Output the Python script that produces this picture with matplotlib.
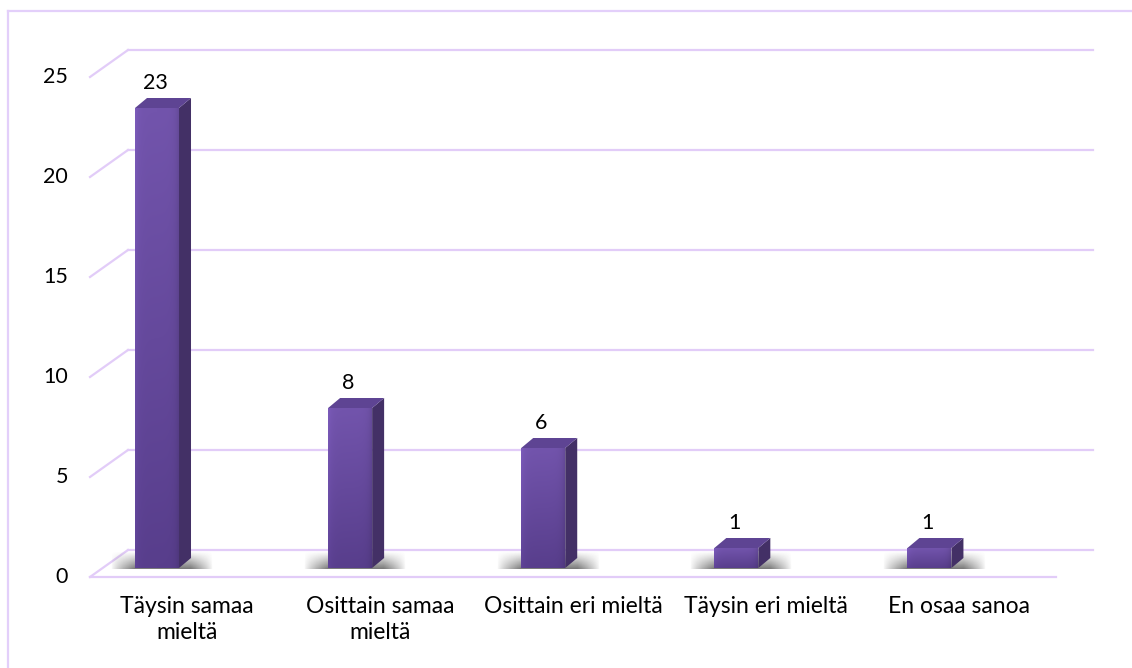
import numpy as np
import matplotlib
matplotlib.use("Agg")
import matplotlib.pyplot as plt
from matplotlib.patches import Polygon
from matplotlib.lines import Line2D
from matplotlib.colors import to_rgb

plt.rcParams["font.family"] = ["Lato", "DejaVu Sans"]

categories = [
    "Täysin samaa\nmieltä",
    "Osittain samaa\nmieltä",
    "Osittain eri mieltä",
    "Täysin eri mieltä",
    "En osaa sanoa",
]
values = [23, 8, 6, 1, 1]
y_ticks = [0, 5, 10, 15, 20, 25]

# figure and plotting box (pixels)
W, H = 1132, 668
L, T, R, B = 90, 40, 1093, 577
XLIM = (-0.347, 4.847)
YLIM = (-0.45, 26.4)

fig = plt.figure(figsize=(W / 100, H / 100), dpi=100)
ax = fig.add_axes([L / W, 1 - B / H, (R - L) / W, (B - T) / H])
ax.set_xlim(*XLIM)
ax.set_ylim(*YLIM)
ax.axis("off")

# pixels per data unit, used to turn depth offsets into data units
px_x = (R - L) / (XLIM[1] - XLIM[0])
px_y = (B - T) / (YLIM[1] - YLIM[0])
dx = lambda p: p / px_x
dy = lambda p: p / px_y

grid_c = "#E2CCF8"
grid_lw = 1.6
FRONT_DY, BACK_DY, BACK_DX = -9, 18, 38
x0 = XLIM[0]

# back wall gridlines with their diagonal returns to the front plane
for v in y_ticks:
    yb = v + dy(BACK_DY)
    yf = v + dy(FRONT_DY)
    ax.add_line(Line2D([x0 + dx(BACK_DX), XLIM[1]], [yb, yb], color=grid_c,
                       lw=grid_lw, clip_on=False, zorder=1))
    ax.add_line(Line2D([x0, x0 + dx(BACK_DX)], [yf, yb], color=grid_c,
                       lw=grid_lw, clip_on=False, zorder=1))
    ax.text(x0 - dx(22), yf, str(v), ha="right", va="center", fontsize=15.5,
            color="#000000")

# front edge of the floor
ax.add_line(Line2D([x0, x0 + dx(966)], [dy(FRONT_DY)] * 2, color=grid_c,
                   lw=grid_lw, clip_on=False, zorder=1))

# outer chart border (top and left edges)
fig.add_artist(Line2D([8 / W, 8 / W], [0, 1 - 11 / H], color="#E3CFFA",
                      lw=1.6, transform=fig.transFigure))
fig.add_artist(Line2D([8 / W, 1], [1 - 11 / H, 1 - 11 / H], color="#E3CFFA",
                      lw=1.6, transform=fig.transFigure))

bw = dx(44)
bdx, bdy = dx(12), dy(10)
xs = np.arange(len(values))

top_rgb = np.array(to_rgb("#7254AC"))
bot_rgb = np.array(to_rgb("#583E8C"))

# soft floor shadows under each bar
sh_w, sh_h = 120, 30
gx = np.linspace(0, 1, sh_w)
gy = np.linspace(0, 1, sh_h)
for x in xs:
    xl, xr = x - bw / 2, x + bw / 2
    ext = (xl - dx(24), xr + bdx + dx(22), -dy(1), dy(17))
    span = ext[1] - ext[0]
    px = ext[0] + gx * span
    fx = np.clip(np.minimum((px - ext[0]) / dx(24), (ext[1] - px) / dx(22)), 0, 1)
    fy = (1 - gy) ** 1.1
    alpha = 0.75 * np.outer(fy, fx ** 0.8)
    img = np.zeros((sh_h, sh_w, 4))
    img[..., :3] = 0.3
    img[..., 3] = alpha
    ax.imshow(img, extent=ext, origin="lower", aspect="auto", zorder=2,
              interpolation="bilinear")

bars = ax.bar(xs, values, width=bw, color="#6A4C9E", zorder=3, linewidth=0)

for bar, x, v in zip(bars, xs, values):
    xl, xr = x - bw / 2, x + bw / 2
    # shaded front face
    t = np.linspace(0, 1, 64)[:, None]
    s = np.linspace(0, 1, 32)[None, :]
    rgb = bot_rgb + (top_rgb - bot_rgb) * t[..., None]
    edge = (1 + 0.08 * np.exp(-s / 0.08) - 0.10 * np.exp(-(1 - s) / 0.08))
    rgb = np.clip(rgb * edge[..., None], 0, 1)
    im = ax.imshow(rgb, extent=(xl, xr, 0, v), origin="lower", aspect="auto",
                   zorder=3.1, interpolation="bilinear")
    im.set_clip_path(bar)
    # right side face
    ax.add_patch(Polygon([(xr, 0), (xr, v), (xr + bdx, v + bdy), (xr + bdx, bdy)],
                         closed=True, facecolor="#433066", edgecolor="none",
                         zorder=3.2))
    # top face
    ax.add_patch(Polygon([(xl, v), (xr, v), (xr + bdx, v + bdy), (xl + bdx, v + bdy)],
                         closed=True, facecolor="#5E4493", edgecolor="none",
                         zorder=3.2))
    # value label
    ax.annotate(str(v), (x, v), xytext=(-2, 25), textcoords="offset pixels",
                ha="center", va="center", fontsize=15.5, color="#000000",
                annotation_clip=False)

# category labels, centred on the front floor slots
for x, cat in zip(xs, categories):
    ax.annotate(cat, (x, 0), xytext=(30, -28), textcoords="offset pixels",
                ha="center", va="top", fontsize=16.5, linespacing=1.28,
                color="#000000", annotation_clip=False)

fig.savefig("out.png", dpi=100, facecolor="white")
